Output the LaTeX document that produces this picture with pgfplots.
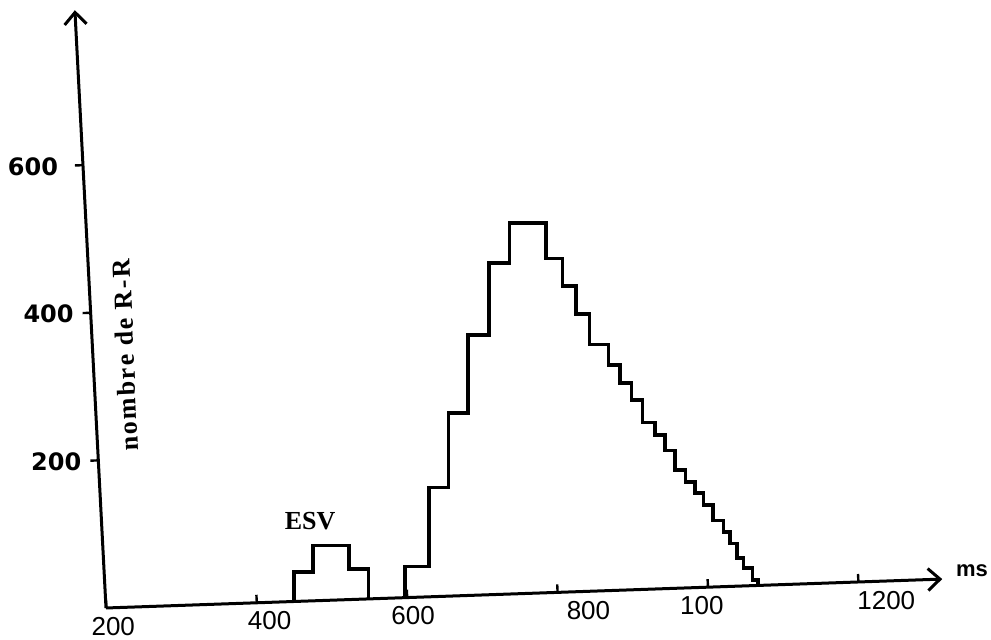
\documentclass[border=0pt]{standalone}
\usepackage{fontspec}
\setmainfont{Liberation Sans}
\newfontfamily\slab{Liberation Serif}[LetterSpace=8]
\newfontfamily\slabb{Liberation Serif}
\newfontfamily\dejavu{DejaVu Sans}
\usepackage{pgfplots}
\pgfplotsset{compat=1.18}
\usetikzlibrary{arrows.meta}
\begin{document}
\begin{tikzpicture}
\begin{pgfinterruptboundingbox}
\begin{axis}[
  x={(0.376pt,0.013pt)}, y={(-0.0192pt,0.369pt)},
  xmin=200, xmax=1312, ymin=0, ymax=810,
  axis lines=left,
  axis line style={line width=1.5pt, -{Straight Barb[length=6pt,width=11pt,line width=1.5pt]}},
  tick align=outside, major tick length=4pt,
  tick style={line width=1.2pt, black},
  xtick style={yshift=4pt},
  xtick={200,400,600,800,1000,1200},
  xticklabels={\hspace*{6pt}200, \hspace*{12pt}400, \hspace*{5pt}600, \hspace*{30pt}800, 100\hspace*{7pt}, \hspace*{27pt}1200},
  ytick={200,400,600},
  yticklabels={200, 400, 600\hspace*{4pt}},
  xticklabel style={font=\fontsize{13}{15}\selectfont, yshift=3pt},
  yticklabel style={font=\dejavu\bfseries\fontsize{12}{14}\selectfont, xshift=-1pt},
  clip=false,
]
\coordinate (O) at (axis cs:200,0);
\addplot[black, line width=1.8pt, const plot mark left] coordinates {
  (452,0) (452,40) (479,75) (525,41) (549,0)
};
\addplot[black, line width=1.8pt, const plot mark left] coordinates {
  (600,0) (600,42) (637,148) (668,248) (699,352) (732,449) (762,502)
  (808,452) (828,414) (844,376) (860,334) (884,305) (898,280) (912,257)
  (925,226) (941,208) (953,187) (965,160) (978,143) (990,128) (1000,111)
  (1012,90) (1025,74) (1033,58) (1041,38) (1049,24) (1060,8) (1067,0)
};
\node[font=\slab\bfseries\fontsize{13}{15}\selectfont, rotate=92.5] at (axis cs:243,341) {nombre de R-R};
\node[font=\slabb\bfseries\fontsize{13}{15}\selectfont] at (axis cs:477,108) {ESV};
\node[font=\bfseries\fontsize{11}{13}\selectfont] at (axis cs:1352,10) {ms};
\end{axis}
\end{pgfinterruptboundingbox}
\useasboundingbox ([shift={(-53pt,-16pt)}]O) rectangle ([shift={(442.5pt,304pt)}]O);
\end{tikzpicture}
\end{document}
